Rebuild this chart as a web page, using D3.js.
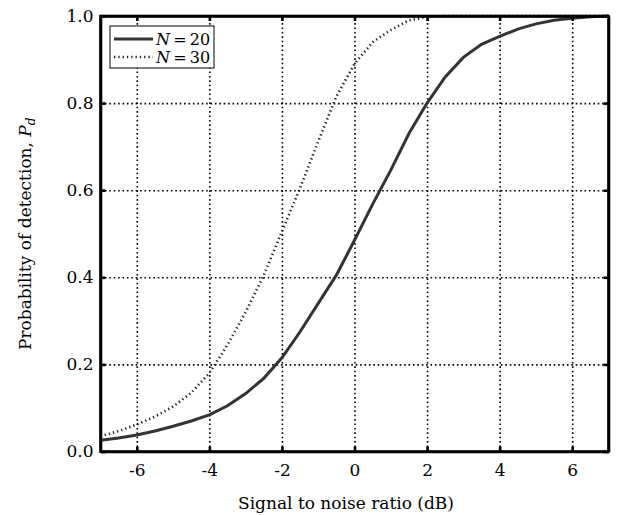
<!DOCTYPE html>
<html lang="en">
<head>
	<meta charset="utf-8">
	<title>Probability of detection</title>
	<script src="https://d3js.org/d3.v7.min.js" charset="utf-8"></script>
	<style>
		body {
			margin: 0;
			background: #fff;
			font-family: "DejaVu Serif", serif;
		}
		.tick text {
			font-family: "DejaVu Serif", serif;
			font-size: 17px;
			fill: #000;
		}
		.grid line {
			stroke: #000;
			stroke-width: 1.6;
			stroke-dasharray: 1.6, 2.8;
		}
		.grid path {
			display: none;
		}
		.axis path {
			stroke: #000;
			stroke-width: 2.6;
		}
		.axis line {
			stroke: #000;
			stroke-width: 2.6;
		}
		.n20 {
			fill: none;
			stroke: #333;
			stroke-width: 3;
		}
		.n30 {
			fill: none;
			stroke: #222;
			stroke-width: 2.6;
			stroke-dasharray: 1.3, 3;
		}
	</style>
</head>
<body>
<script>

	// SNR points (dB)
	var snr = [-7, -6.5, -6, -5.5, -5, -4.5, -4, -3.5, -3, -2.5, -2, -1.5, -1, -0.5,
		0, 0.5, 1, 1.5, 2, 2.5, 3, 3.5, 4, 4.5, 5, 5.5, 6, 6.5, 7];

	// Pd, N = 20
	var pdN20 = [0.026, 0.031, 0.038, 0.047, 0.058, 0.07, 0.084, 0.105, 0.133, 0.168, 0.215,
		0.275, 0.34, 0.405, 0.485, 0.568, 0.646, 0.73, 0.80, 0.86, 0.905, 0.935, 0.953,
		0.97, 0.982, 0.99, 0.995, 0.998, 1.0];

	// Pd, N = 30
	var pdN30 = [0.035, 0.047, 0.062, 0.08, 0.103, 0.135, 0.18, 0.245, 0.32, 0.405, 0.505,
		0.605, 0.712, 0.815, 0.89, 0.94, 0.968, 0.99, 0.998, 1.0, 1.0, 1.0, 1.0,
		1.0, 1.0, 1.0, 1.0, 1.0, 1.0];

	var xTicks = [-6, -4, -2, 0, 2, 4, 6];
	var yTicks = [0.0, 0.2, 0.4, 0.6, 0.8, 1.0];

	var W = 617, H = 515;
	var margin = {top: 16, right: 8.5, bottom: 63.5, left: 100.5},
		width = W - margin.left - margin.right,
		height = H - margin.top - margin.bottom;

	var svg = d3.select("body")
		.append("svg")
		.attr("width", W)
		.attr("height", H);

	var g = svg.append("g")
		.attr("transform", "translate(" + margin.left + "," + margin.top + ")");

	var x = d3.scaleLinear().domain([-7, 7]).range([0, width]);
	var y = d3.scaleLinear().domain([0, 1]).range([height, 0]);

	// dotted grid
	g.append("g")
		.attr("class", "grid")
		.attr("transform", "translate(0," + height + ")")
		.call(d3.axisBottom(x).tickValues(xTicks).tickSize(-height).tickFormat(""));

	g.append("g")
		.attr("class", "grid")
		.call(d3.axisLeft(y).tickValues(yTicks).tickSize(-width).tickFormat(""));

	// curves
	var line = d3.line()
		.x(function(d, i){ return x(snr[i]); })
		.y(function(d){ return y(d); });

	g.append("path")
		.datum(pdN30)
		.attr("class", "n30")
		.attr("d", line);

	g.append("path")
		.datum(pdN20)
		.attr("class", "n20")
		.attr("d", line);

	// axes with inward ticks on all four sides
	g.append("g")
		.attr("class", "axis")
		.attr("transform", "translate(0," + height + ")")
		.call(d3.axisBottom(x).tickValues(xTicks).tickSizeInner(-5).tickSizeOuter(0).tickPadding(12)
			.tickFormat(function(d){ return d < 0 ? "-" + Math.abs(d) : d; }));

	g.append("g")
		.attr("class", "axis")
		.call(d3.axisTop(x).tickValues(xTicks).tickSizeInner(-5).tickSizeOuter(0).tickFormat(""));

	g.append("g")
		.attr("class", "axis")
		.call(d3.axisLeft(y).tickValues(yTicks).tickSizeInner(-5).tickSizeOuter(0).tickPadding(7)
			.tickFormat(d3.format(".1f")));

	g.append("g")
		.attr("class", "axis")
		.attr("transform", "translate(" + width + ",0)")
		.call(d3.axisRight(y).tickValues(yTicks).tickSizeInner(-5).tickSizeOuter(0).tickFormat(""));

	// frame
	g.append("rect")
		.attr("width", width)
		.attr("height", height)
		.attr("fill", "none")
		.attr("stroke", "#000")
		.attr("stroke-width", 2.6);

	// axis titles
	svg.append("text")
		.attr("x", 346)
		.attr("y", 509)
		.attr("text-anchor", "middle")
		.style("font-size", "17px")
		.text("Signal to noise ratio (dB)");

	var yl = svg.append("text")
		.attr("transform", "translate(31," + (margin.top + height / 2) + ") rotate(-90)")
		.attr("text-anchor", "middle")
		.style("font-size", "17px");
	yl.append("tspan").text("Probability of detection, ");
	yl.append("tspan").style("font-style", "italic").text("P");
	yl.append("tspan").attr("dy", 4).style("font-size", "12px").style("font-style", "italic").text("d");

	// legend
	var leg = svg.append("g").attr("transform", "translate(110,26)");
	leg.append("rect")
		.attr("width", 104)
		.attr("height", 42)
		.attr("fill", "#fff")
		.attr("stroke", "#000")
		.attr("stroke-width", 1);

	var legLabels = ["20", "30"];
	var legClasses = ["n20", "n30"];

	legLabels.forEach(function(lab, i){
		var yy = 13 + i * 18;
		leg.append("line")
			.attr("class", legClasses[i])
			.attr("x1", 4).attr("x2", 43)
			.attr("y1", yy).attr("y2", yy);
		var t = leg.append("text")
			.attr("x", 46)
			.attr("y", yy + 6)
			.style("font-size", "16px");
		t.append("tspan").style("font-style", "italic").text("N");
		t.append("tspan").text("\u2009=\u2009" + lab);
	});

</script>
</body>
</html>
